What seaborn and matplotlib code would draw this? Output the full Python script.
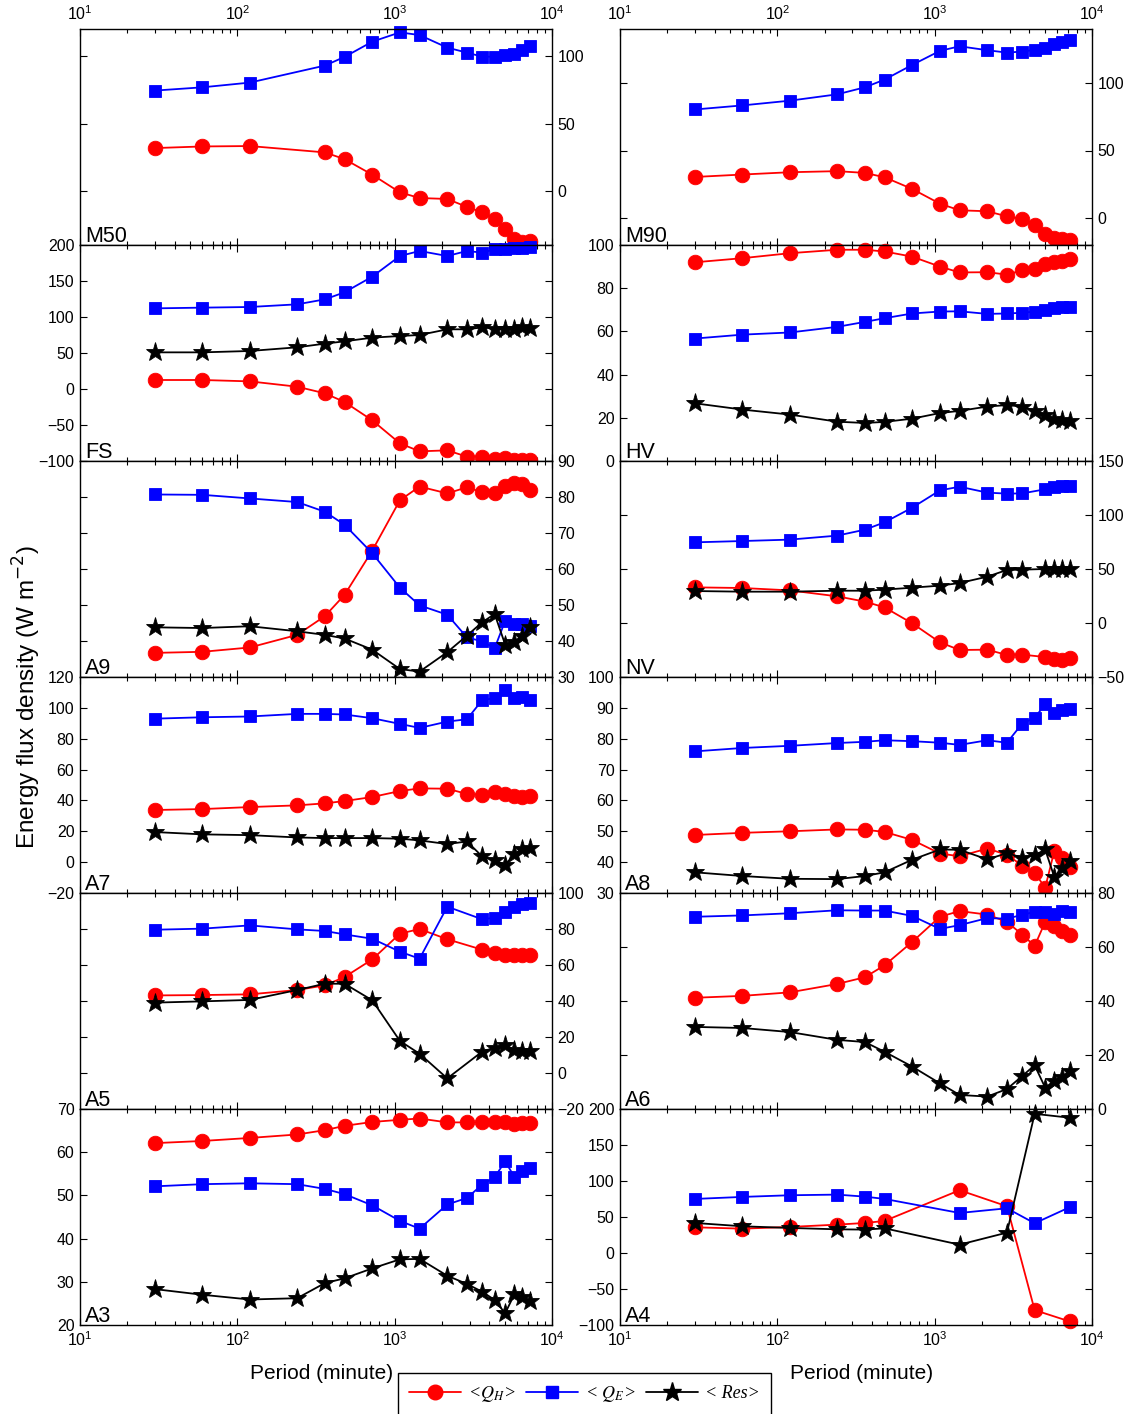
"""
plot.py
Twelve-panel spectrum of energy flux densities versus averaging period,
one panel per site. Red = sensible heat <Q_H>, blue = latent heat <Q_E>,
black = residual <Res>. Values are read off the published figure.
"""

import numpy as np
import matplotlib
matplotlib.use("Agg")
import matplotlib.pyplot as plt
import matplotlib.ticker as mticker
from matplotlib.lines import Line2D
from matplotlib.font_manager import FontProperties
import seaborn as sns

sns.set_theme(style="ticks")
plt.rcParams["font.family"] = ["Liberation Sans", "DejaVu Sans"]
plt.rcParams["axes.unicode_minus"] = True
plt.rcParams["text.color"] = "black"
plt.rcParams["axes.labelcolor"] = "black"

# --- Data (W m-2), periods in minutes ---
PERIODS = [30, 60, 120, 240, 360, 480, 720, 1080, 1440, 2160, 2880,
           3600, 4320, 5040, 5760, 6480, 7200]
PERIODS_M50 = [30, 60, 120, 360, 480, 720, 1080, 1440, 2160, 2880,
               3600, 4320, 5040, 5760, 6480, 7200]
PERIODS_NV = [30, 60, 120, 240, 360, 480, 720, 1080, 1440, 2160, 2880,
              3600, 5040, 5760, 6480, 7200]
PERIODS_A5 = [30, 60, 120, 240, 360, 480, 720, 1080, 1440, 2160,
              3600, 4320, 5040, 5760, 6480, 7200]
PERIODS_A4 = [30, 60, 120, 240, 360, 480, 1440, 2880, 4320, 7200]

M50_QH = [31.8, 33.0, 33.3, 28.6, 23.6, 12.1, -1.0, -5.2, -5.9, -11.8,
          -15.8, -20.7, -28.1, -35.5, -37.7, -37.2]
M50_QE = [74.4, 76.8, 80.3, 92.9, 99.3, 110.6, 117.5, 115.5, 106.2, 102.5,
          99.5, 99.5, 100.7, 101.5, 104.4, 107.1]

M90_QH = [30.4, 32.2, 33.9, 34.7, 33.4, 30.2, 21.5, 10.6, 5.7, 5.0, 1.2,
          -0.5, -5.4, -11.9, -14.6, -15.3, -16.3]
M90_QE = [80.4, 83.4, 86.9, 91.6, 96.8, 102.5, 113.4, 123.8, 127.2, 124.3,
          122.5, 123.3, 124.5, 126.2, 128.7, 130.7, 131.9]

FS_QH = [12.5, 12.5, 10.6, 3.2, -6.0, -18.0, -43.5, -75.5, -86.6, -85.2,
         -94.0, -94.0, -97.7, -96.3, -98.6, -98.6, -98.6]
FS_QE = [112.0, 113.0, 113.9, 117.6, 124.5, 134.3, 156.0, 184.7, 191.7,
         184.7, 191.7, 189.4, 194.0, 194.4, 195.5, 196.0, 197.0]
FS_RES = [50.9, 50.9, 52.8, 57.9, 63.0, 66.2, 71.3, 73.6, 75.0, 82.9, 82.9,
          85.6, 83.8, 83.8, 83.8, 85.6, 84.7]

HV_QH = [92.0, 93.9, 96.2, 97.8, 97.8, 97.0, 94.6, 90.0, 87.3, 87.4, 86.3,
         88.3, 89.0, 91.0, 91.9, 92.8, 93.6]
HV_QE = [56.7, 58.5, 59.5, 62.1, 64.4, 66.1, 68.3, 69.2, 69.3, 68.1, 68.3,
         68.6, 69.2, 70.1, 70.9, 71.2, 71.5]
HV_RES = [26.7, 23.8, 21.5, 18.2, 17.6, 18.1, 19.6, 22.2, 23.2, 25.2, 25.9,
          25.2, 23.3, 21.3, 19.6, 19.2, 18.5]

A9_QH = [36.7, 37.0, 38.2, 41.7, 46.9, 52.8, 65.1, 79.1, 82.9, 81.0, 82.7,
         81.3, 81.1, 83.1, 84.0, 83.6, 81.9]
A9_QE = [80.7, 80.6, 79.6, 78.6, 75.9, 72.3, 64.4, 54.8, 49.9, 47.3, 41.0,
         39.9, 38.0, 45.6, 44.7, 44.7, 44.1]
A9_RES = [43.8, 43.6, 44.1, 42.7, 41.7, 40.7, 37.6, 32.2, 31.5, 36.9, 41.5,
          45.2, 47.5, 39.0, 39.8, 41.5, 43.8]

NV_QH = [33.0, 32.4, 30.2, 24.7, 19.8, 14.5, -0.3, -17.9, -25.0, -24.7,
         -29.6, -29.3, -31.5, -33.3, -34.0, -32.7]
NV_QE = [74.7, 75.9, 77.2, 80.9, 86.4, 93.2, 106.8, 122.8, 126.2, 120.7,
         119.8, 120.0, 123.8, 125.9, 126.5, 127.2]
NV_RES = [29.6, 29.0, 29.0, 29.9, 29.9, 30.9, 32.7, 34.6, 37.0, 42.9, 49.1,
          49.4, 50.0, 50.0, 50.0, 50.0]

A7_QH = [33.8, 34.4, 35.7, 36.8, 38.1, 39.6, 42.2, 46.1, 47.8, 47.6, 44.2,
         43.5, 45.2, 44.2, 42.6, 42.0, 42.9]
A7_QE = [93.0, 93.9, 94.4, 96.1, 96.1, 95.7, 93.3, 89.6, 87.0, 91.1, 92.6,
         105.0, 106.3, 111.3, 106.7, 106.9, 105.2]
A7_RES = [19.5, 18.0, 17.5, 16.0, 15.6, 15.6, 15.6, 15.2, 14.1, 11.7, 13.4,
          3.7, 1.1, -1.7, 5.0, 8.7, 9.1]

A8_QH = [48.8, 49.5, 50.0, 50.6, 50.5, 49.8, 47.2, 42.8, 41.9, 44.4, 42.4,
         38.9, 36.6, 31.7, 43.6, 41.5, 38.4]
A8_QE = [75.9, 77.0, 77.7, 78.6, 79.0, 79.5, 79.2, 78.7, 78.0, 79.5, 78.7,
         84.9, 86.8, 91.1, 88.4, 89.2, 89.7]
A8_RES = [36.7, 35.5, 34.6, 34.5, 35.5, 36.7, 40.8, 44.1, 44.0, 40.9, 42.9,
          41.5, 42.2, 44.1, 35.2, 38.1, 40.3]

A5_QH = [43.1, 43.3, 43.7, 46.1, 48.7, 53.3, 63.1, 77.4, 80.0, 74.3, 68.5,
         66.5, 65.4, 65.4, 65.4, 65.4]
A5_QE = [79.6, 80.2, 82.0, 79.8, 78.9, 77.0, 74.6, 67.4, 63.5, 92.4, 85.4,
         86.3, 89.6, 92.4, 94.1, 94.6]
A5_RES = [39.1, 39.8, 40.6, 46.1, 49.6, 49.6, 40.4, 17.8, 10.7, -3.0, 11.9,
          14.1, 15.6, 12.8, 12.2, 12.2]

A6_QH = [41.2, 41.9, 43.2, 46.3, 48.8, 53.2, 61.9, 71.2, 73.3, 72.0, 69.3,
         64.6, 60.4, 69.3, 67.8, 65.9, 64.4]
A6_QE = [71.2, 71.7, 72.5, 73.6, 73.5, 73.5, 71.5, 66.7, 68.1, 70.7, 70.5,
         71.9, 73.0, 73.1, 72.3, 73.3, 73.1]
A6_RES = [30.4, 30.0, 28.5, 25.6, 24.8, 21.2, 15.7, 9.5, 5.2, 4.6, 7.4,
          12.2, 16.2, 7.9, 10.4, 12.0, 14.1]

A3_QH = [62.1, 62.6, 63.3, 64.1, 65.1, 66.1, 67.0, 67.5, 67.8, 66.9, 66.9,
         66.9, 67.0, 67.0, 66.6, 66.8, 66.8]
A3_QE = [52.1, 52.6, 52.8, 52.6, 51.5, 50.3, 47.7, 44.1, 42.3, 47.9, 49.4,
         52.5, 54.2, 57.9, 54.3, 55.6, 56.3]
A3_RES = [28.3, 27.0, 25.9, 26.2, 29.7, 30.8, 33.1, 35.2, 35.3, 31.4, 29.5,
          27.7, 25.8, 22.7, 27.1, 26.4, 25.5]

A4_QH = [35.7, 33.8, 36.2, 39.4, 41.7, 44.5, 87.2, 64.9, -79.3, -95.0]
A4_QE = [75.1, 77.9, 80.2, 81.1, 78.3, 75.1, 55.6, 62.1, 41.3, 63.5]
A4_RES = [41.7, 37.1, 34.8, 32.9, 32.5, 34.3, 11.6, 28.3, 193.3, 187.9]

# --- Styling ---
STYLE = {
    "QH": dict(color="#ff0000", marker="o", markersize=10.5),
    "QE": dict(color="#0000ff", marker="s", markersize=9),
    "Res": dict(color="black", marker="*", markersize=14),
}

# (name, periods, {series}, ylim, yticks, labels on right?)
PANELS = [
    ("M50", PERIODS_M50, {"QH": M50_QH, "QE": M50_QE}, (-40, 120), [0, 50, 100], True),
    ("M90", PERIODS, {"QH": M90_QH, "QE": M90_QE}, (-20, 140), [0, 50, 100], True),
    ("FS", PERIODS, {"QH": FS_QH, "QE": FS_QE, "Res": FS_RES}, (-100, 200), range(-100, 201, 50), False),
    ("HV", PERIODS, {"QH": HV_QH, "QE": HV_QE, "Res": HV_RES}, (0, 100), range(0, 101, 20), False),
    ("A9", PERIODS, {"QH": A9_QH, "QE": A9_QE, "Res": A9_RES}, (30, 90), range(30, 91, 10), True),
    ("NV", PERIODS_NV, {"QH": NV_QH, "QE": NV_QE, "Res": NV_RES}, (-50, 150), range(-50, 151, 50), True),
    ("A7", PERIODS, {"QH": A7_QH, "QE": A7_QE, "Res": A7_RES}, (-20, 120), range(-20, 121, 20), False),
    ("A8", PERIODS, {"QH": A8_QH, "QE": A8_QE, "Res": A8_RES}, (30, 100), range(30, 101, 10), False),
    ("A5", PERIODS_A5, {"QH": A5_QH, "QE": A5_QE, "Res": A5_RES}, (-20, 100), range(-20, 101, 20), True),
    ("A6", PERIODS, {"QH": A6_QH, "QE": A6_QE, "Res": A6_RES}, (0, 80), range(0, 81, 20), True),
    ("A3", PERIODS, {"QH": A3_QH, "QE": A3_QE, "Res": A3_RES}, (20, 70), range(20, 71, 10), False),
    ("A4", PERIODS_A4, {"QH": A4_QH, "QE": A4_QE, "Res": A4_RES}, (-100, 200), range(-100, 201, 50), False),
]

W, H = 1133, 1414
COL_LEFT = [80, 620]
COL_WIDTH = 472
ROW_TOP = 29
ROW_HEIGHT = 216


def draw_panel(ax, name, periods, series, ylim, yticks, right, row):
    for key, vals in series.items():
        sns.lineplot(x=periods, y=vals, ax=ax, estimator=None, sort=False,
                     linewidth=1.3, markeredgewidth=0.6,
                     markeredgecolor=STYLE[key]["color"], clip_on=False,
                     legend=False, **STYLE[key])

    ax.set_xscale("log")
    ax.set_xlim(10, 1e4)
    ax.set_ylim(*ylim)
    ax.set_yticks(list(yticks))
    ax.xaxis.set_major_locator(mticker.LogLocator(base=10))
    ax.xaxis.set_minor_locator(mticker.LogLocator(base=10, subs=np.arange(2, 10)))
    ax.xaxis.set_minor_formatter(mticker.NullFormatter())
    ax.set_xlabel("")
    ax.set_ylabel("")

    ax.tick_params(which="both", direction="in", top=True, bottom=True,
                   left=True, right=True, colors="black", labelsize=11.5,
                   labeltop=(row == 0), labelbottom=(row == 5),
                   labelleft=not right, labelright=right, pad=4)
    ax.tick_params(which="major", length=5, width=0.8)
    ax.tick_params(which="minor", length=3, width=0.8)
    for sp in ax.spines.values():
        sp.set_color("black")
        sp.set_linewidth(1.0)

    ax.text(0.011, 0.012, name, transform=ax.transAxes, fontsize=15.5,
            color="black", ha="left", va="baseline")


def main():
    fig = plt.figure(figsize=(W / 100, H / 100), dpi=100)
    fig.patch.set_facecolor("white")

    for i, (name, periods, series, ylim, yticks, right) in enumerate(PANELS):
        row, col = divmod(i, 2)
        left = COL_LEFT[col] / W
        bottom = 1 - (ROW_TOP + (row + 1) * ROW_HEIGHT) / H
        ax = fig.add_axes([left, bottom, COL_WIDTH / W, ROW_HEIGHT / H])
        ax.set_facecolor("white")
        draw_panel(ax, name, periods, series, ylim, yticks, right, row)
        if row == 5:
            ax.set_xlabel("Period (minute)", fontsize=15, color="black")
            ax.xaxis.set_label_coords(0.512, -0.18)

    fig.text(27 / W, 1 - 697 / H, r"Energy flux density (W m$^{-2}$)",
             rotation=90, ha="center", va="center", fontsize=17.5,
             color="black")

    handles = [Line2D([], [], linewidth=1.3, markeredgecolor=STYLE[k]["color"], **STYLE[k])
               for k in ("QH", "QE", "Res")]
    labels = [r"<$Q_H$>", r"< $Q_E$>", r"< Res>"]
    prop = FontProperties(family="Liberation Serif", style="italic", size=13,
                          math_fontfamily="stix")
    leg = fig.legend(handles, labels, loc="upper left",
                     bbox_to_anchor=(398 / W, 1 - 1373 / H), ncol=3,
                     frameon=True, fancybox=False, framealpha=1,
                     edgecolor="black", prop=prop, numpoints=1,
                     handlelength=2.9, handletextpad=0.4, columnspacing=0.55,
                     borderpad=0.6, borderaxespad=0)
    leg.get_frame().set_linewidth(1.0)

    fig.savefig("out.png", dpi=100, facecolor="white")
    plt.close(fig)


if __name__ == "__main__":
    main()
